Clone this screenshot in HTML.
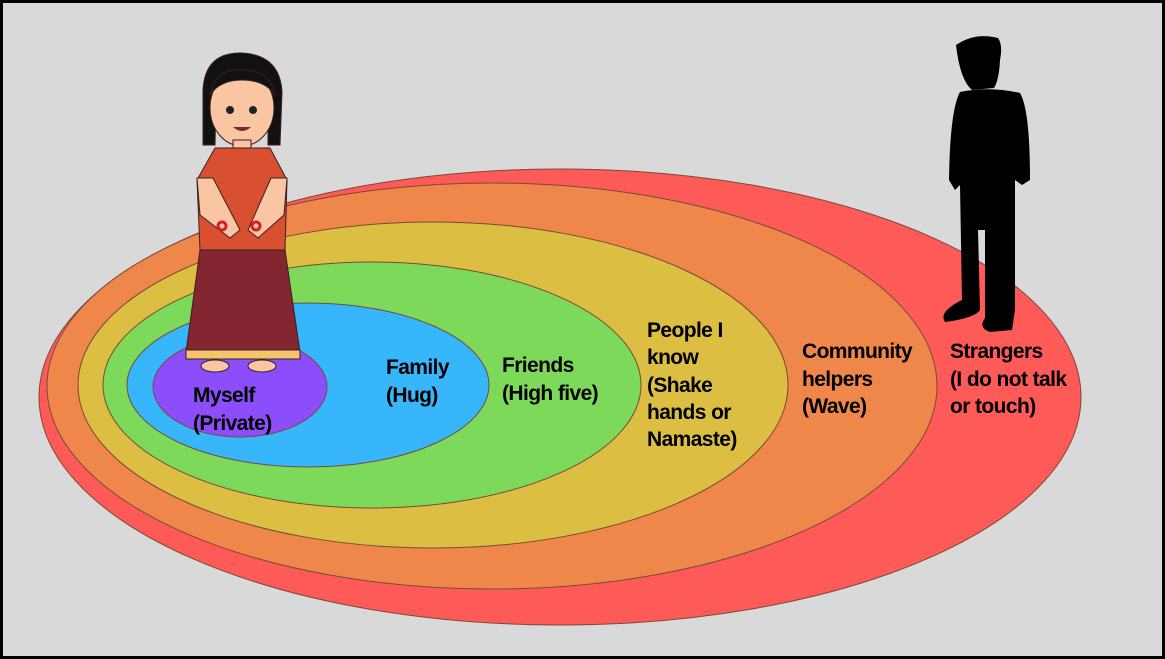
<!DOCTYPE html>
<html><head><meta charset="utf-8"><style>
html,body{margin:0;padding:0;background:#d9d9d9}
svg{display:block}
text{font-family:"Liberation Sans",Arial,sans-serif;font-weight:bold;font-size:21px;fill:#000;letter-spacing:-0.6px}
</style></head><body>
<svg width="1165" height="659" viewBox="0 0 1165 659">
<rect x="1.5" y="1.5" width="1162" height="656" fill="#d9d9d9" stroke="#000" stroke-width="3"/>
<g stroke="#7a4a3a" stroke-width="1">
<ellipse cx="560" cy="397" rx="521" ry="228" fill="#fd5a58"/>
<ellipse cx="492" cy="386" rx="445" ry="203" fill="#ee8749"/>
<ellipse cx="433" cy="385" rx="355" ry="163" fill="#dcbe43"/>
<ellipse cx="372" cy="385" rx="269" ry="123" fill="#7cd95a"/>
<ellipse cx="308" cy="385" rx="181" ry="82" fill="#38b6fc"/>
<ellipse cx="240" cy="387" rx="87" ry="50" fill="#8c4dfb"/>
</g>
<!-- girl -->
<g stroke="#3a2020" stroke-width="1">
<path d="M203,90 Q205,52 242,53 Q280,55 282,92 L280,145 L268,145 L268,100 L216,100 L215,145 L203,145 Z" fill="#111"/>
<ellipse cx="242" cy="108" rx="32" ry="38" fill="#f9c5a2"/>
<path d="M210,95 Q215,68 242,70 Q270,70 275,95 Q265,80 242,80 Q220,80 210,95Z" fill="#111"/>
<rect x="233" y="140" width="18" height="12" fill="#f9c5a2"/>
<path d="M215,148 L270,148 L287,180 L285,250 L200,250 L197,180 Z" fill="#d8502f"/>
<path d="M197,178 L213,178 L240,230 L230,238 L200,215 Z" fill="#f9c5a2"/>
<path d="M287,178 L271,178 L248,230 L258,238 L284,215 Z" fill="#f9c5a2"/>
<path d="M200,250 L285,250 L300,352 L186,352 Z" fill="#842532"/>
<rect x="186" y="350" width="114" height="9" fill="#f4c56a"/>
<ellipse cx="215" cy="366" rx="14" ry="6" fill="#f9c5a2"/>
<ellipse cx="262" cy="366" rx="14" ry="6" fill="#f9c5a2"/>
</g>
<circle cx="230" cy="110" r="4" fill="#222"/><circle cx="253" cy="110" r="4" fill="#222"/>
<path d="M233,127 Q242,135 251,127Z" fill="#7a2a2a"/>
<circle cx="222" cy="226" r="4" fill="none" stroke="#d61e28" stroke-width="3"/>
<circle cx="256" cy="226" r="4" fill="none" stroke="#d61e28" stroke-width="3"/>
<!-- man silhouette -->
<g fill="#000">
<path d="M956,45 Q975,32 998,38 Q1003,45 1000,60 Q999,80 994,88 L972,90 Q960,80 956,45Z"/>
<path d="M960,92 Q990,86 1020,93 Q1030,110 1030,180 L1022,185 L1015,180 L1015,310 L1012,330 L990,332 Q978,328 985,318 L985,230 L978,230 L980,310 Q975,318 945,322 Q938,312 962,300 L960,185 L955,190 L949,180 Q950,110 960,92Z"/>
</g>
<text x="193" y="402">Myself</text>
<text x="193" y="430">(Private)</text>
<text x="386" y="374">Family</text>
<text x="386" y="402">(Hug)</text>
<text x="502" y="372">Friends</text>
<text x="502" y="400">(High five)</text>
<text x="647" y="337">People I</text>
<text x="647" y="364">know</text>
<text x="647" y="392">(Shake</text>
<text x="647" y="419">hands or</text>
<text x="647" y="446">Namaste)</text>
<text x="802" y="358">Community</text>
<text x="802" y="386">helpers</text>
<text x="802" y="413">(Wave)</text>
<text x="950" y="358">Strangers</text>
<text x="950" y="386">(I do not talk</text>
<text x="950" y="413">or touch)</text>
</svg>
</body></html>
